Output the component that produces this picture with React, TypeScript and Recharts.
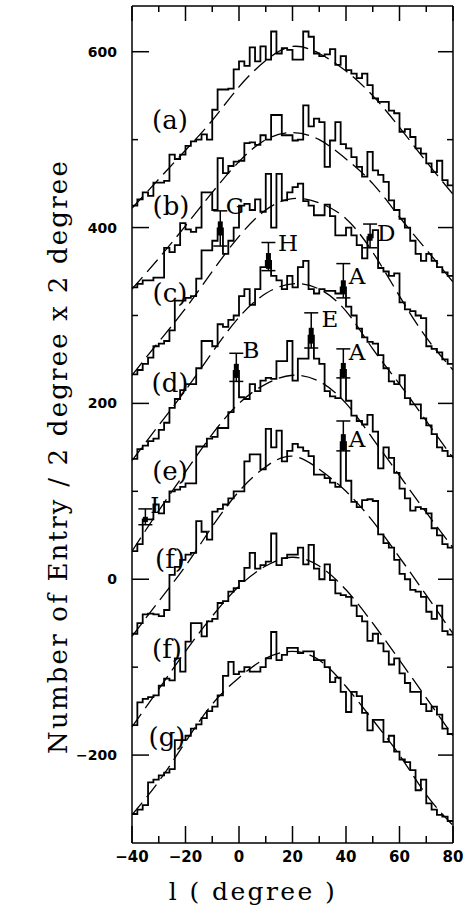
import { ComposedChart, Line, Scatter, ErrorBar, XAxis, YAxis } from 'recharts';

// 2 degree bins, left edges -40 .. 78, plus the closing edge at 80
const BIN_EDGES = Array.from({ length: 61 }, (_, i) => -40 + 2 * i);
const FIT_X = [-40, -30, -20, -10, 0, 10, 20, 30, 40, 50, 60, 70, 80];

const X_TICKS = [-40, -30, -20, -10, 0, 10, 20, 30, 40, 50, 60, 70, 80];
const Y_TICKS = [-200, -100, 0, 100, 200, 300, 400, 500, 600];

const HIST_A = [
  425, 432, 440, 436, 451, 451, 453, 483, 478, 483,
  493, 498, 500, 506, 500, 534, 557, 557, 558, 580,
  589, 584, 605, 589, 606, 591, 623, 598, 604, 602,
  591, 591, 623, 617, 598, 595, 597, 603, 585, 595,
  579, 575, 570, 575, 562, 547, 543, 543, 533, 530,
  509, 512, 503, 490, 484, 473, 463, 476, 454, 448,
];
const HIST_B = [
  332, 336, 340, 340, 343, 343, 377, 372, 380, 405,
  398, 395, 400, 440, 440, 420, 479, 462, 470, 475,
  476, 496, 497, 494, 505, 500, 528, 528, 505, 505,
  499, 500, 539, 515, 524, 520, 469, 499, 520, 495,
  490, 480, 469, 458, 486, 465, 460, 452, 431, 420,
  410, 400, 385, 370, 362, 370, 362, 355, 349, 345,
];
const HIST_C = [
  233, 238, 245, 252, 265, 268, 271, 283, 317, 317,
  320, 322, 342, 374, 374, 385, 399, 370, 385, 400,
  425, 427, 420, 432, 418, 461, 400, 461, 431, 440,
  446, 450, 430, 425, 414, 414, 426, 413, 391, 391,
  400, 391, 380, 365, 389, 397, 354, 350, 345, 348,
  315, 307, 305, 300, 297, 265, 262, 258, 250, 245,
];
const HIST_D = [
  137, 148, 152, 157, 160, 170, 178, 195, 205, 215,
  222, 222, 240, 271, 271, 265, 290, 287, 295, 300,
  322, 330, 312, 330, 355, 362, 345, 340, 330, 345,
  332, 355, 362, 330, 325, 330, 328, 328, 325, 332,
  310, 300, 285, 275, 270, 268, 255, 240, 225, 222,
  232, 206, 199, 199, 183, 175, 165, 150, 146, 140,
];
const HIST_E = [
  32, 40, 68, 68, 85, 75, 88, 100, 102, 105,
  109, 109, 151, 151, 160, 162, 172, 172, 190, 237,
  207, 205, 222, 214, 226, 229, 228, 248, 248, 271,
  226, 251, 251, 277, 251, 245, 214, 208, 206, 238,
  203, 186, 180, 176, 187, 168, 126, 150, 138, 121,
  103, 92, 78, 82, 80, 75, 58, 50, 40, 36,
];
const HIST_F = [
  -62, -50, -40, -39, -40, -42, -35, 5, 14, 22,
  28, 30, 66, 54, 45, 77, 80, 85, 92, 100,
  100, 134, 142, 142, 125, 171, 150, 169, 134, 146,
  154, 150, 146, 140, 119, 119, 115, 110, 105, 156,
  112, 88, 82, 90, 91, 89, 51, 41, 36, 22,
  6, 0, -12, -14, -20, -37, -45, -30, -59, -63,
];
const HIST_F2 = [
  -166, -140, -136, -134, -132, -121, -113, -115, -90, -105,
  -71, -50, -50, -65, -48, -45, -27, -25, -14, -10,
  -2, 13, 30, 12, 16, 20, 52, 16, 24, 28,
  28, 36, 17, 39, 12, 0, 17, -1, -16, -18,
  -20, -30, -42, -48, -70, -62, -73, -82, -97, -90,
  -107, -118, -128, -128, -142, -150, -145, -154, -170, -176,
];
const HIST_G = [
  -267, -262, -257, -231, -228, -223, -220, -216, -183, -183,
  -178, -170, -165, -158, -150, -145, -132, -110, -94, -108,
  -105, -100, -105, -105, -100, -90, -60, -92, -86, -78,
  -78, -84, -82, -82, -92, -92, -100, -117, -112, -128,
  -151, -128, -133, -152, -172, -160, -160, -185, -178, -196,
  -205, -208, -217, -240, -228, -255, -262, -268, -270, -275,
];

const FIT_A = [422, 455, 488, 522, 560, 590, 606, 598, 578, 550, 514, 475, 438];
const FIT_B = [330, 365, 402, 440, 475, 500, 508, 500, 478, 450, 412, 375, 338];
const FIT_C = [232, 270, 308, 350, 390, 420, 433, 428, 410, 372, 322, 275, 238];
const FIT_D = [135, 175, 215, 258, 298, 325, 336, 330, 305, 262, 222, 180, 138];
const FIT_E = [32, 78, 122, 165, 200, 222, 232, 225, 200, 160, 118, 76, 36];
const FIT_F = [-65, -25, 15, 60, 100, 128, 140, 125, 100, 66, 25, -18, -62];
const FIT_F2 = [-168, -125, -82, -42, -8, 15, 25, 15, -12, -50, -92, -135, -178];
const FIT_G = [-268, -230, -185, -142, -112, -90, -82, -92, -122, -160, -200, -245, -280];

// marked bins with error bars
const MARK_X = [-7, 11, 49, 39, 27, -1, 39, 39, -35];
const MARK_Y = [399, 362, 389, 332, 277, 237, 238, 156, 68];
const MARK_LO = [20, 11, 12, 12, 14, 12, 9, 10, 6];
const MARK_HI = [20, 21, 15, 27, 26, 20, 24, 24, 12];
const MARK_BOX = [8, 9, 4, 8, 9, 8, 8, 9, 3];

const TAG_TEXT = ['G', 'H', 'D', 'A', 'E', 'B', 'A', 'A', 'I'];
const TAG_X = [-1.5, 18.3, 55, 44.1, 34, 4.5, 44.1, 44.1, -31.5];
const TAG_Y = [425, 383, 394, 345, 296, 261, 258, 159, 84];

const PANEL_TEXT = ['(a)', '(b)', '(c)', '(d)', '(e)', '(f)', '(f)', '(g)'];
const PANEL_X = [-25.8, -25.4, -25.8, -25.8, -25.8, -25.8, -26.9, -26.9];
const PANEL_Y = [522, 424, 325, 223, 123, 23, -79, -179];

const HISTS = [HIST_A, HIST_B, HIST_C, HIST_D, HIST_E, HIST_F, HIST_F2, HIST_G];
const FITS = [FIT_A, FIT_B, FIT_C, FIT_D, FIT_E, FIT_F, FIT_F2, FIT_G];

const histData = (vals: number[]) =>
  BIN_EDGES.map((x, i) => ({ x, y: vals[Math.min(i, vals.length - 1)] }));
const fitData = (vals: number[]) => FIT_X.map((x, i) => ({ x, y: vals[i] }));

const markData = MARK_X.map((x, i) => ({
  x,
  y: MARK_Y[i],
  whisker: [MARK_LO[i], MARK_HI[i]],
  box: [MARK_BOX[i], MARK_BOX[i]],
}));
const tagData = TAG_X.map((x, i) => ({ x, y: TAG_Y[i], text: TAG_TEXT[i] }));
const panelData = PANEL_X.map((x, i) => ({ x, y: PANEL_Y[i], text: PANEL_TEXT[i] }));

const INK = '#000';
const NUM_FONT = 'DejaVu Sans';
const SERIF = 'DejaVu Serif';
const fmt = (v: number) => (v < 0 ? `\u2212${Math.abs(v)}` : `${v}`);

const BottomTick = ({ x, y, payload }: any) => {
  const major = payload.value % 20 === 0;
  return (
    <g>
      <line x1={x} y1={y} x2={x} y2={y - (major ? 17 : 7)} stroke={INK} strokeWidth={1.5} />
      {major && (
        <text x={x} y={y + 14} textAnchor="middle" dominantBaseline="central"
          fontFamily={NUM_FONT} fontWeight="bold" fontSize={15} fill={INK}>
          {fmt(payload.value)}
        </text>
      )}
    </g>
  );
};

const TopTick = ({ x, y, payload }: any) => {
  const major = payload.value % 20 === 0;
  return <line x1={x} y1={y} x2={x} y2={y + (major ? 15 : 6)} stroke={INK} strokeWidth={1.5} />;
};

const LeftTick = ({ x, y, payload }: any) => {
  const major = payload.value % 200 === 0;
  return (
    <g>
      <line x1={x} y1={y} x2={x + (major ? 17 : 6)} y2={y} stroke={INK} strokeWidth={1.5} />
      {major && (
        <text x={x - 15} y={y} textAnchor="end" dominantBaseline="central"
          fontFamily={NUM_FONT} fontWeight="bold" fontSize={14} fill={INK}>
          {fmt(payload.value)}
        </text>
      )}
    </g>
  );
};

const RightTick = ({ x, y, payload }: any) => {
  const major = payload.value % 200 === 0;
  return <line x1={x} y1={y} x2={x - (major ? 15 : 6)} y2={y} stroke={INK} strokeWidth={1.5} />;
};

const YTitle = ({ viewBox }: any) => {
  const cx = viewBox.x + 38;
  const cy = viewBox.y + viewBox.height / 2 + 32;
  return (
    <text x={cx} y={cy} transform={`rotate(-90 ${cx} ${cy})`} textAnchor="middle"
      dominantBaseline="central" fontFamily={SERIF} fontSize={26} letterSpacing={2.2} fill={INK}>
      Number of Entry / 2 degree x 2 degree
    </text>
  );
};

const XTitle = ({ viewBox }: any) => {
  const cx = viewBox.x + 121;
  const cy = viewBox.y + 48;
  return (
    <text x={cx} y={cy} textAnchor="middle" dominantBaseline="central"
      fontFamily={SERIF} fontSize={25} letterSpacing={2.4} fill={INK}>
      l ( degree )
    </text>
  );
};

const panelShape = (p: any) => (
  <text x={p.cx} y={p.cy} textAnchor="middle" dominantBaseline="central"
    fontFamily={SERIF} fontSize={26} fill={INK}>
    {p.payload.text}
  </text>
);

const tagShape = (p: any) => (
  <text x={p.cx} y={p.cy} textAnchor="middle" dominantBaseline="central"
    fontFamily={SERIF} fontSize={23} fill={INK}>
    {p.payload.text}
  </text>
);

const noShape = () => <g />;

export default function App() {
  return (
    <div style={{ position: 'absolute', left: 0, top: 0, background: '#fff' }}>
      <ComposedChart width={466} height={911} margin={{ top: 5, right: 12, bottom: 0, left: 20 }}>
        <XAxis
          type="number" dataKey="x" domain={[-40, 80]} ticks={X_TICKS} allowDataOverflow
          height={68} tickSize={0} tickMargin={0} tick={<BottomTick />}
          axisLine={{ stroke: INK, strokeWidth: 1.5 }} label={<XTitle />}
        />
        <XAxis
          xAxisId="top" orientation="top" type="number" dataKey="x" domain={[-40, 80]}
          ticks={X_TICKS} allowDataOverflow height={1} tickSize={0} tickMargin={0}
          tick={<TopTick />} axisLine={{ stroke: INK, strokeWidth: 1.5 }}
        />
        <YAxis
          type="number" dataKey="y" domain={[-300, 652]} ticks={Y_TICKS} allowDataOverflow
          width={112} tickSize={0} tickMargin={0} tick={<LeftTick />}
          axisLine={{ stroke: INK, strokeWidth: 1.5 }} label={<YTitle />}
        />
        <YAxis
          yAxisId="right" orientation="right" type="number" dataKey="y" domain={[-300, 652]}
          ticks={Y_TICKS} allowDataOverflow width={1} tickSize={0} tickMargin={0}
          tick={<RightTick />} axisLine={{ stroke: INK, strokeWidth: 1.5 }}
        />

        {FITS.map((f, i) => (
          <Line
            key={`fit-${i}`} data={fitData(f)} dataKey="y" type="natural" stroke={INK}
            strokeWidth={1.3} strokeDasharray="16 7" dot={false} isAnimationActive={false}
          />
        ))}
        {HISTS.map((h, i) => (
          <Line
            key={`hist-${i}`} data={histData(h)} dataKey="y" type="stepAfter" stroke={INK}
            strokeWidth={1.8} dot={false} isAnimationActive={false}
          />
        ))}

        <Scatter data={markData} dataKey="y" shape={noShape} isAnimationActive={false}>
          <ErrorBar dataKey="whisker" direction="y" width={7} stroke={INK} strokeWidth={1.5} isAnimationActive={false} />
          <ErrorBar dataKey="box" direction="y" width={0} stroke={INK} strokeWidth={5} isAnimationActive={false} />
        </Scatter>
        <Scatter data={tagData} dataKey="y" shape={tagShape} isAnimationActive={false} />
        <Scatter data={panelData} dataKey="y" shape={panelShape} isAnimationActive={false} />
      </ComposedChart>
    </div>
  );
}
